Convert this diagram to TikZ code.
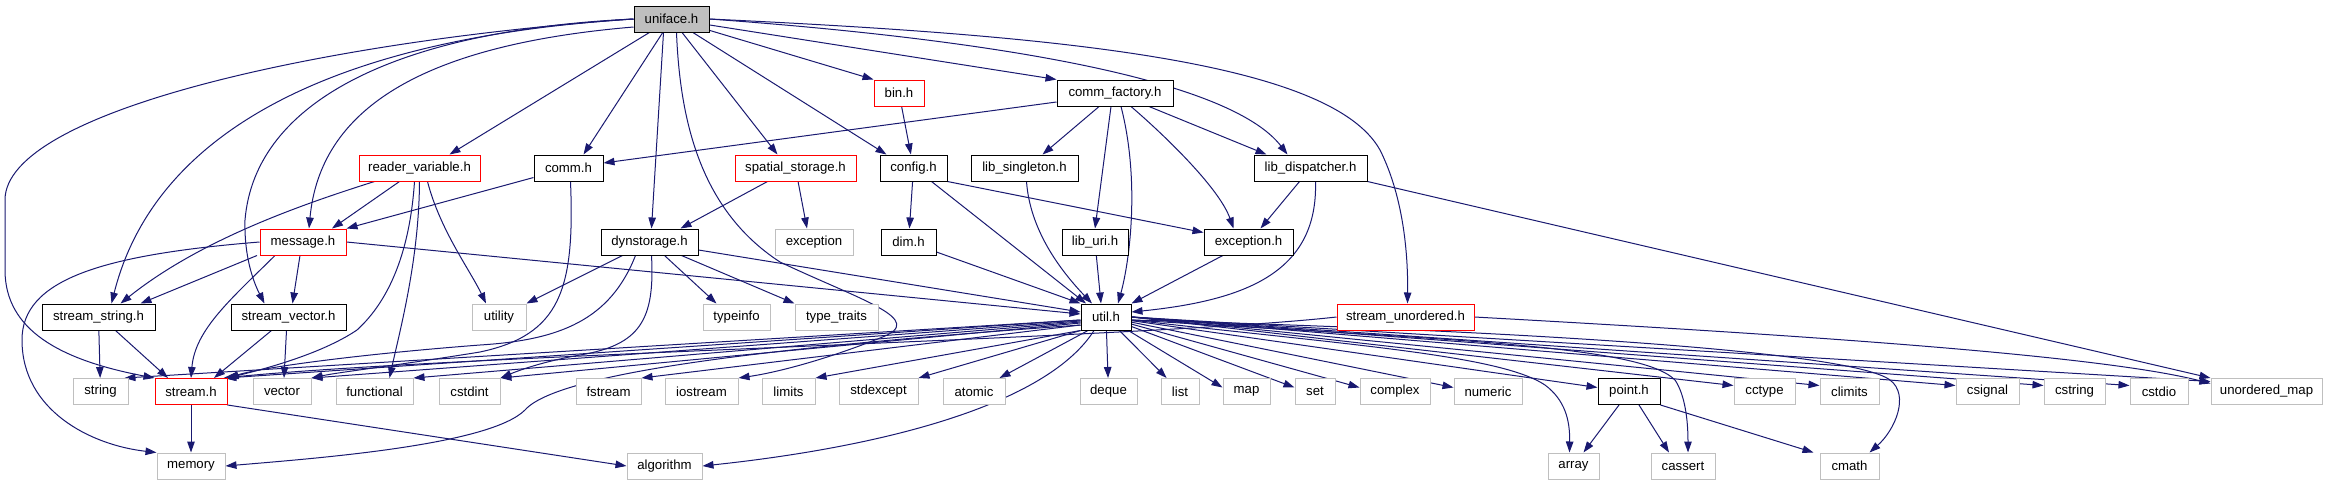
\documentclass[tikz,border=0pt]{standalone}
\usepackage{fontspec}
\setmainfont{Liberation Sans}
\usetikzlibrary{arrows.meta,backgrounds}

\definecolor{edgeblue}{HTML}{191970}
\definecolor{boxgray}{HTML}{BFBFBF}

\begin{document}
\begin{tikzpicture}[x=1pt, y=-1pt, >={Triangle[length=11pt,width=7.5pt]},
  hdr/.style={draw, fill=white, minimum height=26pt, inner sep=0pt, font=\fontsize{13.2}{15}\selectfont},
  docbox/.style={hdr, draw=black, line width=1pt},
  redbox/.style={hdr, draw=red, line width=1pt},
  sysbox/.style={hdr, draw=boxgray, line width=1pt},
  curbox/.style={hdr, draw=black, fill=boxgray, line width=1pt},
  dep/.style={->, draw=edgeblue, line width=1pt}]

\useasboundingbox (0,0) rectangle (2327,485);

% Top file and its direct headers
\node (uniface) at (671.5,19) [curbox, minimum width=75pt] {uniface.h};

\node (bin)         at (899,93)  [redbox, minimum width=50pt]  {bin.h};
\node (commfactory) at (1115,93) [docbox, minimum width=116pt] {comm\_factory.h};

\node (reader)        at (419.5,168)  [redbox, minimum width=121pt] {reader\_variable.h};
\node (comm)          at (568.5,168)  [docbox, minimum width=69pt]  {comm.h};
\node (spatial)       at (795.5,168)  [redbox, minimum width=121pt] {spatial\_storage.h};
\node (config)        at (913.5,168)  [docbox, minimum width=67pt]  {config.h};
\node (libsingleton)  at (1024.5,168) [docbox, minimum width=107pt] {lib\_singleton.h};
\node (libdispatcher) at (1310.5,168) [docbox, minimum width=113pt] {lib\_dispatcher.h};

\node (message)    at (303,242)    [redbox, minimum width=86pt] {message.h};
\node (dynstorage) at (649.5,242)  [docbox, minimum width=97pt] {dynstorage.h};
\node (exception)  at (814,242)    [sysbox, minimum width=78pt] {exception};
\node (dim)        at (908.5,242)  [docbox, minimum width=55pt] {dim.h};
\node (liburi)     at (1095,242)   [docbox, minimum width=66pt] {lib\_uri.h};
\node (exceptionh) at (1248.5,242) [docbox, minimum width=89pt] {exception.h};

\node (streamstring)    at (98.5,317)   [docbox, minimum width=113pt] {stream\_string.h};
\node (streamvector)    at (288.5,317)  [docbox, minimum width=115pt] {stream\_vector.h};
\node (utility)         at (499,317)    [sysbox, minimum width=54pt]  {utility};
\node (typeinfo)        at (736.5,317)  [sysbox, minimum width=67pt]  {typeinfo};
\node (typetraits)      at (836.5,317)  [sysbox, minimum width=83pt]  {type\_traits};
\node (util)            at (1106,317)   [docbox, minimum width=50pt]  {util.h};
\node (streamunordered) at (1405.5,317) [redbox, minimum width=137pt] {stream\_unordered.h};

% Standard headers
\node (string)       at (100.5,391.5)  [sysbox, minimum width=55pt]  {string};
\node (stream)       at (191,391.5)    [redbox, minimum width=72pt]  {stream.h};
\node (vector)       at (282,391.5)    [sysbox, minimum width=58pt]  {vector};
\node (functional)   at (374.5,391.5)  [sysbox, minimum width=77pt]  {functional};
\node (cstdint)      at (469.5,391.5)  [sysbox, minimum width=61pt]  {cstdint};
\node (fstream)      at (608.5,391.5)  [sysbox, minimum width=65pt]  {fstream};
\node (iostream)     at (701.5,391.5)  [sysbox, minimum width=73pt]  {iostream};
\node (limits)       at (788.5,391.5)  [sysbox, minimum width=53pt]  {limits};
\node (stdexcept)    at (878.5,391.5)  [sysbox, minimum width=79pt]  {stdexcept};
\node (atomic)       at (974,391.5)    [sysbox, minimum width=62pt]  {atomic};
\node (deque)        at (1108.5,391.5) [sysbox, minimum width=57pt]  {deque};
\node (list)         at (1180,391.5)   [sysbox, minimum width=38pt]  {list};
\node (map)          at (1246.5,391.5) [sysbox, minimum width=47pt]  {map};
\node (set)          at (1315,391.5)   [sysbox, minimum width=40pt]  {set};
\node (complex)      at (1395,391.5)   [sysbox, minimum width=70pt]  {complex};
\node (numeric)      at (1488,391.5)   [sysbox, minimum width=68pt]  {numeric};
\node (point)        at (1629,391.5)   [docbox, minimum width=62pt]  {point.h};
\node (cctype)       at (1764.5,391.5) [sysbox, minimum width=61pt]  {cctype};
\node (climits)      at (1849.5,391.5) [sysbox, minimum width=59pt]  {climits};
\node (csignal)      at (1987.5,391.5) [sysbox, minimum width=63pt]  {csignal};
\node (cstring)      at (2074.5,391.5) [sysbox, minimum width=61pt]  {cstring};
\node (cstdio)       at (2159,391.5)   [sysbox, minimum width=58pt]  {cstdio};
\node (unorderedmap) at (2266.5,391.5) [sysbox, minimum width=111pt] {unordered\_map};

\node (memory)    at (191,466)    [sysbox, minimum width=68pt] {memory};
\node (algorithm) at (664.5,466)  [sysbox, minimum width=75pt] {algorithm};
\node (array)     at (1573.5,466) [sysbox, minimum width=51pt] {array};
\node (cassert)   at (1683,466)   [sysbox, minimum width=64pt] {cassert};
\node (cmath)     at (1849.5,466) [sysbox, minimum width=59pt] {cmath};

\begin{scope}[on background layer]
% uniface.h
\draw[dep] (uniface.west) .. controls (330,40) and (5,110) .. (5,200) -- (5,270) .. controls (5,330) and (60,360) .. (stream.north west);
\draw[dep] (uniface.west) .. controls (300,40) and (150,150) .. ([xshift=13pt]streamstring.north);
\draw[dep] (uniface.west) .. controls (400,30) and (255,100) .. (245,220) .. controls (244,260) and (255,285) .. ([xshift=-24pt]streamvector.north);
\draw[dep] ([yshift=-8pt]uniface.west) .. controls (420,45) and (320,110) .. ([xshift=6pt]message.north);
\draw[dep] (uniface) -- ([xshift=30pt]reader.north);
\draw[dep] (uniface) -- ([xshift=15pt]comm.north);
\draw[dep] ([xshift=-8pt]uniface.south) -- ([xshift=2pt]dynstorage.north);
\draw[dep] ([xshift=5pt]uniface.south) .. controls (680,120) and (700,210) .. (780,262) .. controls (860,300) and (930,320) .. (880,338) .. controls (830,358) and (780,372) .. (iostream.north east);
\draw[dep] (uniface) -- ([xshift=-18pt]spatial.north);
\draw[dep] (uniface) -- ([xshift=-27pt]config.north);
\draw[dep] (uniface) -- (bin.north west);
\draw[dep] (uniface) -- (commfactory.north west);
\draw[dep] (uniface.east) .. controls (1000,40) and (1230,80) .. ([xshift=-23pt]libdispatcher.north);
\draw[dep] (uniface.east) .. controls (1050,35) and (1330,60) .. (1380,150) .. controls (1405,200) and (1408,260) .. ([xshift=2pt]streamunordered.north);

% second level
\draw[dep] (bin) -- (config);
\draw[dep] ([yshift=-9pt]commfactory.west) -- ([yshift=5pt]comm.east);
\draw[dep] (commfactory) -- ([xshift=18pt]libsingleton.north);
\draw[dep] ([xshift=-4pt]commfactory.south) -- (liburi.north);
\draw[dep] ([xshift=6pt]commfactory.south) .. controls (1140,180) and (1130,260) .. ([xshift=12pt]util.north);
\draw[dep] ([xshift=16pt]commfactory.south) .. controls (1170,140) and (1220,190) .. ([xshift=-15pt]exceptionh.north);
\draw[dep] ([xshift=34pt]commfactory.south) -- ([xshift=-44pt]libdispatcher.north);

\draw[dep] (config) -- (dim);
\draw[dep] ([xshift=18pt]config.south) -- ([xshift=-20pt]util.north);
\draw[dep] (config.south east) -- ([yshift=-4pt]exceptionh.north west);
\draw[dep] ([xshift=2pt]libsingleton.south) .. controls (1030,230) and (1060,270) .. ([xshift=-14pt]util.north);
\draw[dep] (liburi) -- ([xshift=-5pt]util.north);
\draw[dep] (dim) -- (util.north west);
\draw[dep] (exceptionh) -- (util.north east);
\draw[dep] ([xshift=-11pt]libdispatcher.south) -- ([xshift=12pt]exceptionh.north);
\draw[dep] ([xshift=5pt]libdispatcher.south) .. controls (1318,270) and (1250,300) .. ([yshift=5pt]util.east);
\draw[dep] (libdispatcher.south east) -- (unorderedmap.north west);

\draw[dep] ([xshift=-28pt]spatial.south) -- ([xshift=31pt]dynstorage.north);
\draw[dep] (spatial) -- ([xshift=-7pt]exception.north);

% reader_variable.h, comm.h, dynstorage.h
\draw[dep] ([xshift=-45pt]reader.south) .. controls (300,205) and (200,240) .. ([xshift=22pt]streamstring.north);
\draw[dep] ([xshift=-20pt]reader.south) -- ([xshift=29pt]message.north);
\draw[dep] ([xshift=-5pt]reader.south) .. controls (410,250) and (390,300) .. (357,330) .. controls (320,355) and (260,370) .. (stream.north east);
\draw[dep] (reader.south) .. controls (419,260) and (400,330) .. ([xshift=15pt]functional.north);
\draw[dep] ([xshift=8pt]reader.south) .. controls (440,230) and (470,270) .. ([xshift=-13pt]utility.north);

\draw[dep] (comm) -- (message.north east);
\draw[dep] ([xshift=2pt]comm.south) .. controls (575,290) and (560,335) .. (480,352) .. controls (400,365) and (340,372) .. (vector.north east);

\draw[dep] ([xshift=-27pt]dynstorage.south) -- (utility.north east);
\draw[dep] ([xshift=-14pt]dynstorage.south) .. controls (610,320) and (560,340) .. (480,345) .. controls (350,355) and (260,368) .. (stream.north east);
\draw[dep] ([xshift=2pt]dynstorage.south) .. controls (655,320) and (640,345) .. (580,355) .. controls (540,362) and (515,372) .. (cstdint.north east);
\draw[dep] ([xshift=15pt]dynstorage.south) -- ([xshift=-20pt]typeinfo.north);
\draw[dep] ([xshift=32pt]dynstorage.south) -- (typetraits.north west);
\draw[dep] ([yshift=-8pt]dynstorage.east) -- ([yshift=5pt]util.west);

% message.h and the stream headers
\draw[dep] ([xshift=-46pt]message.south) -- ([xshift=42pt]streamstring.north);
\draw[dep] ([xshift=-3pt]message.south) -- ([xshift=4pt]streamvector.north);
\draw[dep] ([xshift=-28pt]message.south) .. controls (230,300) and (195,330) .. (stream.north);
\draw[dep] (message.west) .. controls (100,255) and (22,280) .. (22,340) .. controls (22,410) and (90,445) .. (memory.north west);
\draw[dep] (message.east) -- ([yshift=3pt]util.west);

\draw[dep] (streamstring) -- (string);
\draw[dep] ([xshift=17pt]streamstring.south) -- ([xshift=-23pt]stream.north);
\draw[dep] ([xshift=-17pt]streamvector.south) -- ([xshift=23pt]stream.north);
\draw[dep] ([xshift=-2pt]streamvector.south) -- ([xshift=2pt]vector.north);

\draw[dep] (streamunordered.west) .. controls (1150,338) and (450,355) .. ([xshift=-4pt]stream.north east);
\draw[dep] (streamunordered.east) .. controls (1800,335) and (2100,355) .. ([yshift=8pt]unorderedmap.west);

\draw[dep] (stream) -- (memory);
\draw[dep] (stream.south east) -- (algorithm.west);

% util.h, to the left
\draw[dep] ([yshift=-3pt]util.west) -- ([xshift=-4pt]string.north east);
\draw[dep] ([yshift=-3pt]util.west) -- ([xshift=-2pt]stream.north east);
\draw[dep] ([yshift=-4pt]util.west) -- (vector.north east);
\draw[dep] ([yshift=-5pt]util.west) -- (functional.north east);
\draw[dep] ([yshift=-6pt]util.west) -- (cstdint.north east);
\draw[dep] ([yshift=-8pt]util.west) -- (fstream.north east);
\draw[dep] ([yshift=-8pt]util.west) .. controls (800,345) and (560,370) .. (525,410) .. controls (490,445) and (320,458) .. (memory.east);
\draw[dep] (util.south west) -- (limits.north east);
\draw[dep] (util.south west) -- (stdexcept.north east);
\draw[dep] ([xshift=-18pt]util.south) -- ([xshift=-6pt]atomic.north east);
\draw[dep] ([xshift=-12pt]util.south) .. controls (1050,400) and (900,445) .. (algorithm.east);

% util.h, downwards and to the right
\draw[dep] (util) -- (deque);
\draw[dep] (util) -- (list);
\draw[dep] (util) -- ([yshift=4pt]map.west);
\draw[dep] (util) -- ([yshift=4pt]set.west);
\draw[dep] (util) -- ([yshift=4pt]complex.west);
\draw[dep] (util) -- ([yshift=4pt]numeric.west);
\draw[dep] (util) -- ([yshift=4pt]point.west);
\draw[dep] (util.east) -- ([yshift=6pt]cctype.west);
\draw[dep] (util.east) -- ([yshift=6pt]climits.west);
\draw[dep] (util.east) -- ([yshift=6pt]csignal.west);
\draw[dep] (util.east) -- ([yshift=6pt]cstring.west);
\draw[dep] (util.east) -- ([yshift=6pt]cstdio.west);
\draw[dep] (util.east) -- ([yshift=10pt]unorderedmap.west);
\draw[dep] ([yshift=-3pt]util.east) .. controls (1350,345) and (1500,355) .. (1545,385) .. controls (1565,400) and (1570,420) .. ([xshift=-4pt]array.north);
\draw[dep] ([yshift=-3pt]util.east) .. controls (1450,340) and (1640,345) .. (1675,380) .. controls (1685,395) and (1688,420) .. ([xshift=5pt]cassert.north);
\draw[dep] ([yshift=-3pt]util.east) .. controls (1500,330) and (1850,350) .. (1890,380) .. controls (1910,395) and (1895,430) .. ([xshift=20pt]cmath.north);

% point.h
\draw[dep] ([xshift=-10pt]point.south) -- ([xshift=10pt]array.north);
\draw[dep] ([xshift=10pt]point.south) -- ([xshift=-14pt]cassert.north);
\draw[dep] (point.south east) -- ([xshift=-6pt]cmath.north west);
\end{scope}

\end{tikzpicture}
\end{document}
